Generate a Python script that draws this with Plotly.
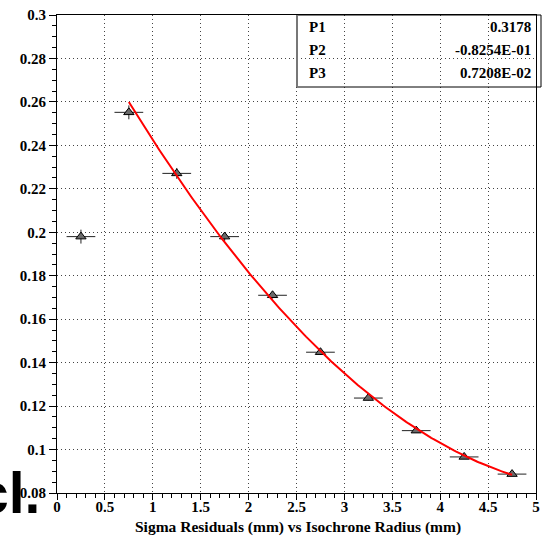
import plotly.graph_objects as go
import numpy as np

# ---- data ----
radius = [0.25, 0.75, 1.25, 1.75, 2.25, 2.75, 3.25, 3.75, 4.25, 4.75]
sigma = [0.198, 0.2552, 0.2271, 0.198, 0.171, 0.1448, 0.1237, 0.1087, 0.0966, 0.0887]
sigma_err = [0.0032, 0.0032, 0.0025, 0.002, 0.0015, 0.0012, 0.001, 0.001, 0.0008, 0.0008]
radius_err = [0.15] * 10

# fit parameters (pol2) as shown in the stats box
P1, P2, P3 = 0.3178, -0.08254, 0.007208
fit_range = [0.75, 4.75]
par_names = ["P1", "P2", "P3"]
par_labels = ["0.3178", "-0.8254E-01", "0.7208E-02"]

x_ticks = [0, 0.5, 1, 1.5, 2, 2.5, 3, 3.5, 4, 4.5, 5]
x_ticktext = ["0", "0.5", "1", "1.5", "2", "2.5", "3", "3.5", "4", "4.5", "5"]
y_ticks = [0.08, 0.1, 0.12, 0.14, 0.16, 0.18, 0.2, 0.22, 0.24, 0.26, 0.28, 0.3]
y_ticktext = ["0.08", "0.1", "0.12", "0.14", "0.16", "0.18", "0.2", "0.22", "0.24", "0.26", "0.28", "0.3"]

xt = "Sigma Residuals (mm) vs Isochrone Radius (mm)"

fx = np.linspace(fit_range[0], fit_range[1], 200)
fy = P1 + P2 * fx + P3 * fx ** 2

serif = "Liberation Serif, Times New Roman, serif"

fig = go.Figure()
fig.add_trace(go.Scatter(
    x=radius, y=sigma, mode="markers",
    marker=dict(symbol="triangle-up", size=9, color="#6a6a6a",
                line=dict(color="black", width=1)),
    error_x=dict(type="data", array=radius_err, color="#222", thickness=1, width=0),
    error_y=dict(type="data", array=sigma_err, color="#222", thickness=1, width=0),
    showlegend=False,
))
fig.add_trace(go.Scatter(
    x=fx, y=fy, mode="lines", line=dict(color="red", width=2), showlegend=False,
))

axis_common = dict(
    showline=True, linecolor="black", linewidth=1, mirror=True,
    ticks="outside", tickcolor="black", tickwidth=1,
    showgrid=True, gridcolor="#444", griddash="1px,3px", gridwidth=1,
    zeroline=False, automargin=False,
    tickfont=dict(family=serif, size=15, color="black", weight="bold"),
)

fig.update_xaxes(range=[0, 5], tickvals=x_ticks, ticktext=x_ticktext,
                 ticklen=6, ticklabelstandoff=-6,
                 minor=dict(dtick=0.1, ticks="outside", ticklen=4, tickcolor="black", showgrid=False),
                 **axis_common)
fig.update_yaxes(range=[0.08, 0.3], tickvals=y_ticks, ticktext=y_ticktext,
                 ticklen=7,
                 minor=dict(dtick=0.005, ticks="outside", ticklen=4, tickcolor="black", showgrid=False),
                 **axis_common)

# x-axis title
fig.add_annotation(text=xt, xref="paper", yref="paper", x=(298 - 57) / 479, y=(493 - 527) / 478,
                   xanchor="center", yanchor="middle", showarrow=False,
                   font=dict(family=serif, size=15.5, color="black", weight="bold"))

# stats box
bx0 = (297 - 57) / 479
bx1 = (541 - 57) / 479
by0 = (493 - 87) / 478
fig.add_shape(type="rect", xref="paper", yref="paper", x0=bx0, x1=bx1, y0=by0, y1=1.0,
              line=dict(color="black", width=1), fillcolor="rgba(0,0,0,0)")
fig.add_shape(type="line", xref="paper", yref="paper", x0=bx0, x1=bx0, y0=by0, y1=1.0,
              line=dict(color="#777", width=2))
row_px = [27, 50, 73]
for name, lab, rp in zip(par_names, par_labels, row_px):
    yy = (493 - rp) / 478
    fig.add_annotation(text=name, xref="paper", yref="paper", x=(307 - 57) / 479, y=yy,
                       xanchor="left", yanchor="middle", showarrow=False,
                       font=dict(family=serif, size=15, color="black", weight="bold"))
    fig.add_annotation(text=lab, xref="paper", yref="paper", x=(533 - 57) / 479, y=yy,
                       xanchor="right", yanchor="middle", showarrow=False,
                       font=dict(family=serif, size=15, color="black", weight="bold"))

# cropped text fragment at lower left
fig.add_annotation(text="cl.", xref="paper", yref="paper", x=(42 - 57) / 479, y=(493 - 527) / 478,
                   xanchor="right", yanchor="bottom", showarrow=False,
                   font=dict(family="Liberation Sans", size=57, color="black", weight="bold"))

fig.update_layout(
    width=545, height=539,
    margin=dict(l=57, r=9, t=15, b=46),
    paper_bgcolor="white", plot_bgcolor="white",
)

fig.write_html("out.html")
